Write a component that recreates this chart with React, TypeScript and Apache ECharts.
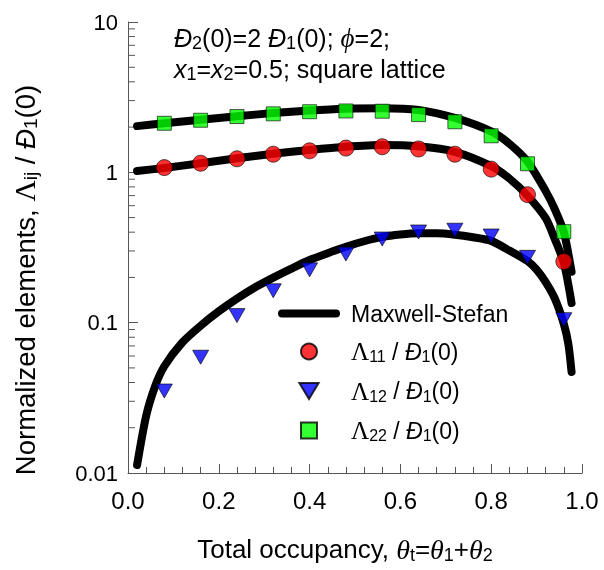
import React, { useEffect, useRef } from "react";
import * as echarts from "echarts";

// ---- data ----
const markerX = [0.08, 0.16, 0.24, 0.32, 0.4, 0.48, 0.56, 0.64, 0.72, 0.8, 0.88, 0.96];
const lambda11 = [1.075, 1.15, 1.23, 1.32, 1.39, 1.45, 1.48, 1.43, 1.32, 1.05, 0.71, 0.255];
const lambda12 = [0.0351, 0.0589, 0.1114, 0.163, 0.2245, 0.286, 0.36, 0.401, 0.412, 0.377, 0.272, 0.1047];
const lambda22 = [2.12, 2.22, 2.35, 2.45, 2.53, 2.56, 2.55, 2.42, 2.17, 1.75, 1.14, 0.403];

const ms11X = [0.02, 0.08, 0.16, 0.24, 0.32, 0.4, 0.48, 0.56, 0.64, 0.72, 0.8, 0.84, 0.88, 0.92, 0.94, 0.96, 0.977];
const ms11Y = [1.02, 1.07, 1.15, 1.24, 1.33, 1.41, 1.48, 1.52, 1.49, 1.37, 1.1, 0.91, 0.7, 0.495, 0.36, 0.25, 0.135];
const ms22X = [0.02, 0.08, 0.16, 0.24, 0.32, 0.4, 0.48, 0.56, 0.64, 0.72, 0.8, 0.84, 0.88, 0.92, 0.94, 0.96, 0.977];
const ms22Y = [2.03, 2.12, 2.24, 2.36, 2.48, 2.58, 2.65, 2.67, 2.6, 2.3, 1.87, 1.55, 1.18, 0.75, 0.57, 0.4, 0.218];
const ms12X = [0.02, 0.04, 0.06, 0.08, 0.12, 0.16, 0.2, 0.24, 0.28, 0.32, 0.36, 0.4, 0.44, 0.48, 0.52, 0.56, 0.6, 0.64, 0.68, 0.72, 0.76, 0.8, 0.84, 0.88, 0.9, 0.92, 0.94, 0.96, 0.97, 0.977];
const ms12Y = [0.0113, 0.024, 0.038, 0.0513, 0.0741, 0.0955, 0.119, 0.1445, 0.172, 0.1995, 0.229, 0.261, 0.29, 0.32, 0.348, 0.372, 0.386, 0.393, 0.393, 0.385, 0.37, 0.35, 0.302, 0.257, 0.225, 0.186, 0.145, 0.098, 0.072, 0.047];

const yTickLabels = ["0.01", "0.1", "1", "10"];
const yMinorTicks = [0.02, 0.03, 0.04, 0.05, 0.06, 0.07, 0.08, 0.09, 0.2, 0.3, 0.4, 0.5, 0.6, 0.7, 0.8, 0.9, 2, 3, 4, 5, 6, 7, 8, 9];

const SANS = '"Liberation Sans", Arial, sans-serif';
const SERIF = '"Liberation Serif", "Times New Roman", serif';

const mkRich = (fs: number, lh: number) => ({
  n: { fontFamily: SANS, fontSize: fs, color: "#000", lineHeight: lh },
  i: { fontFamily: SANS, fontSize: fs, fontStyle: "italic", color: "#000", lineHeight: lh },
  s: { fontFamily: SANS, fontSize: Math.round(fs * 0.7), color: "#000", verticalAlign: "bottom", lineHeight: Math.round(fs * 0.7) },
  g: { fontFamily: SERIF, fontSize: fs + 2, color: "#000", lineHeight: lh },
  gi: { fontFamily: SERIF, fontSize: fs + 2, fontStyle: "italic", color: "#000", lineHeight: lh },
});

const zip = (xs: number[], ys: number[]) => xs.map((x, i) => [x, ys[i]]);

export default function App() {
  const ref = useRef<HTMLDivElement>(null);
  useEffect(() => {
    if (!ref.current) return;
    const chart = echarts.init(ref.current, null, { renderer: "svg" });
    const lineSeries = (data: number[][]) => ({
      type: "line",
      name: "Maxwell-Stefan",
      data,
      showSymbol: false,
      symbol: "none",
      smooth: 0.25,
      lineStyle: { color: "#000", width: 8, cap: "round", join: "round" },
      itemStyle: { color: "#000" },
      z: 2,
    });
    const legendText: Record<string, string> = {
      "Maxwell-Stefan": "{n|Maxwell-Stefan}",
      L11: "{g|Λ}{s|11}{n| / }{i|Đ}{s|1}{n|(0)}",
      L12: "{g|Λ}{s|12}{n| / }{i|Đ}{s|1}{n|(0)}",
      L22: "{g|Λ}{s|22}{n| / }{i|Đ}{s|1}{n|(0)}",
    };
    const tri = "path://M0 0L20 0L10 17Z";
    const legendRich = mkRich(23, 26);
    const annRich = mkRich(25, 28);
    const xTitleRich = mkRich(26, 30);
    const yTitleRich = mkRich(27.5, 30);
    chart.setOption({
      animation: false,
      grid: { left: 128, right: 22, top: 22, bottom: 97, show: false },
      xAxis: {
        type: "value",
        min: 0,
        max: 1,
        interval: 0.2,
        axisLine: { lineStyle: { color: "#555", width: 1 } },
        axisTick: { inside: true, length: 9, lineStyle: { color: "#555" } },
        minorTick: { show: true, splitNumber: 5, length: 6, lineStyle: { color: "#555" } },
        splitLine: { show: false },
        axisLabel: {
          margin: 15,
          fontFamily: SANS,
          fontSize: 24,
          color: "#000",
          formatter: (v: number) => v.toFixed(1),
        },
      },
      yAxis: {
        type: "log",
        logBase: 10,
        min: 0.01,
        max: 10,
        axisLine: { show: true, lineStyle: { color: "#555", width: 1 } },
        axisTick: { show: true, inside: true, length: 10, lineStyle: { color: "#555" } },
        splitLine: { show: false },
        axisLabel: {
          margin: 10,
          fontFamily: SANS,
          fontSize: 22,
          color: "#000",
          formatter: (v: number) => yTickLabels[Math.round(Math.log10(v)) + 2],
        },
      },
      legend: {
        orient: "vertical",
        left: 278,
        top: 302,
        padding: 0,
        itemWidth: 62,
        itemHeight: 16,
        itemGap: 14,
        data: [
          { name: "Maxwell-Stefan", icon: "path://M4 0H58A4 4 0 0 1 58 8H4A4 4 0 0 1 4 0Z" },
          { name: "L11", icon: "circle" },
          { name: "L12", icon: "path://M0 0L18 0L9 15Z" },
          { name: "L22", icon: "path://M0 0H14V14H0Z" },
        ],
        formatter: (name: string) => legendText[name],
        textStyle: { rich: legendRich, padding: [0, 0, 0, 6] },
      },
      graphic: [
        {
          type: "text",
          x: 174,
          y: 38,
          style: {
            text: "{i|Đ}{s|2}{n|(0)=2 }{i|Đ}{s|1}{n|(0); }{gi|ϕ}{n|=2;}",
            rich: annRich,
            align: "left",
            verticalAlign: "middle",
          },
        },
        {
          type: "text",
          x: 174,
          y: 69,
          style: {
            text: "{i|x}{s|1}{n|=}{i|x}{s|2}{n|=0.5; square lattice}",
            rich: annRich,
            align: "left",
            verticalAlign: "middle",
          },
        },
        {
          type: "text",
          x: 345,
          y: 549,
          style: {
            text: "{n|Total occupancy, }{gi|θ}{s|t}{n|=}{gi|θ}{s|1}{n|+}{gi|θ}{s|2}",
            rich: xTitleRich,
            align: "center",
            verticalAlign: "middle",
          },
        },
        {
          type: "text",
          x: 25,
          y: 280,
          rotation: Math.PI / 2,
          style: {
            text: "{n|Normalized elements, }{g|Λ}{s|ij}{n| / }{i|Đ}{s|1}{n|(0)}",
            rich: yTitleRich,
            align: "center",
            verticalAlign: "middle",
          },
        },
      ],
      series: [
        {
          type: "custom",
          name: "yMinor",
          silent: true,
          clip: false,
          data: yMinorTicks.map((v) => [0, v]),
          renderItem: (params: any, api: any) => {
            const p = api.coord([api.value(0), api.value(1)]);
            return {
              type: "line",
              shape: { x1: p[0], y1: p[1], x2: p[0] + 7, y2: p[1] },
              style: { stroke: "#555", lineWidth: 1 },
            };
          },
        },
        lineSeries(zip(ms22X, ms22Y)),
        lineSeries(zip(ms11X, ms11Y)),
        lineSeries(zip(ms12X, ms12Y)),
        {
          type: "scatter",
          name: "L11",
          data: zip(markerX, lambda11),
          symbol: "circle",
          symbolSize: 16,
          itemStyle: { color: "#ff0000", borderColor: "#000", borderWidth: 0.8 },
          z: 3,
        },
        {
          type: "scatter",
          name: "L12",
          data: zip(markerX, lambda12),
          symbol: tri,
          symbolSize: [16, 14],
          itemStyle: { color: "#0000ff", borderColor: "#000", borderWidth: 0.8 },
          z: 3,
        },
        {
          type: "scatter",
          name: "L22",
          data: zip(markerX, lambda22),
          symbol: "rect",
          symbolSize: 14,
          itemStyle: { color: "#00ff00", borderColor: "#000", borderWidth: 0.8 },
          z: 3,
        },
      ],
    });
    return () => chart.dispose();
  }, []);
  return <div ref={ref} style={{ position: "fixed", left: 0, top: 0, width: 604, height: 570 }} />;
}
